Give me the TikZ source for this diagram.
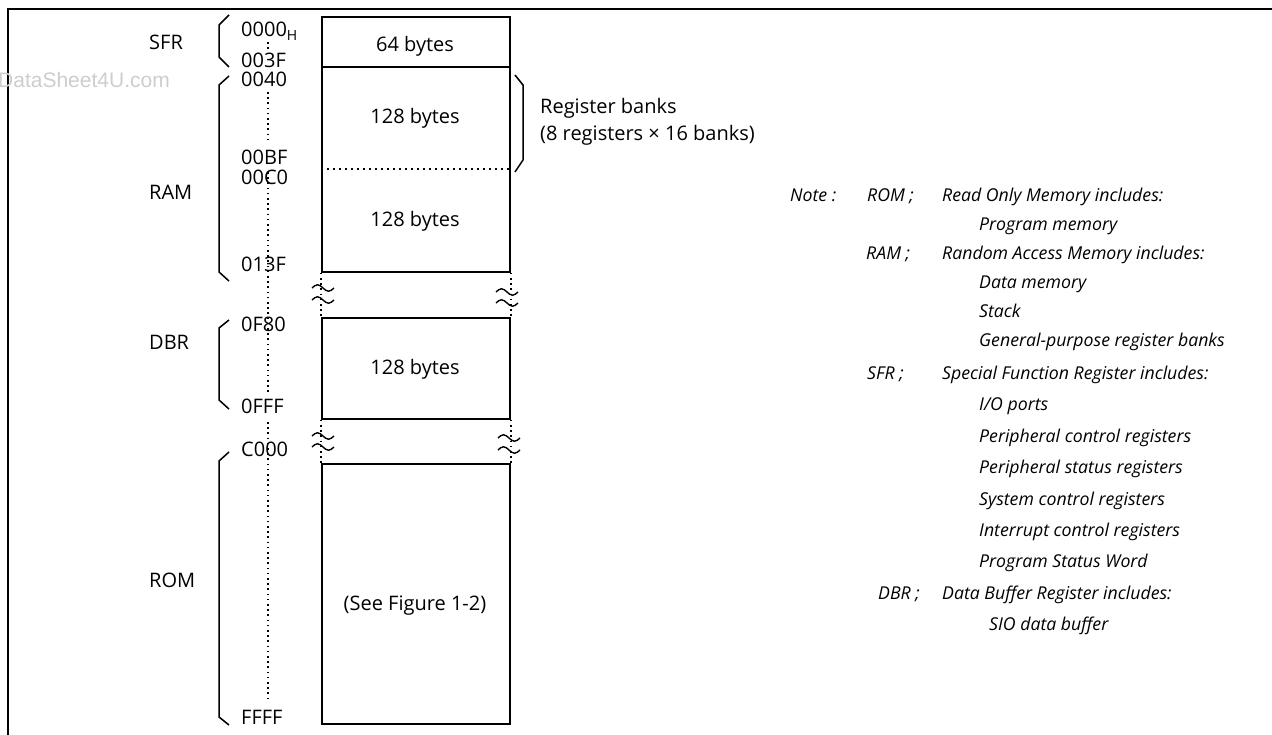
\documentclass[tikz,border=0pt]{standalone}
\usepackage{fontspec}
\setmainfont{Open Sans}
\newfontfamily\wmfont{Liberation Sans}
\definecolor{wmgray}{RGB}{205,205,205}
\begin{document}
\begin{tikzpicture}[x=1pt,y=-1pt,
  memblock/.style={draw, line width=1.8pt, minimum width=188pt, anchor=north west, inner sep=0pt},
  lbl/.style={font=\fontsize{20}{24}\selectfont, anchor=base west, inner sep=0pt},
  ctr/.style={font=\fontsize{20}{24}\selectfont, anchor=base, inner sep=0pt},
  note/.style={font=\fontsize{17.7}{20}\selectfont\itshape, anchor=base west, inner sep=0pt},
  brace/.style={line width=1.5pt},
  addrdots/.style={line width=1.6pt, dash pattern=on 1.6pt off 3.6pt},
  sepdots/.style={line width=1.5pt, dash pattern=on 1.5pt off 4.5pt},
  frame/.style={line width=2.2pt},
  brk/.pic={\draw[line width=1.4pt] (-11,0) sin (-5.5,-3.2) cos (0,0) sin (5.5,3.2) cos (11,0);}
]
\useasboundingbox (0,0) rectangle (1272,735);

% frame
\draw[frame] (8,735) -- (8,9) -- (1272,9);

% watermark
\node[font=\wmfont\fontsize{21}{24}\selectfont, text=wmgray, anchor=base east, inner sep=0pt] (wm) at (170,88) {DataSheet4U.com};

% memory blocks
\node[memblock, minimum height=50pt] (sfrbox) at (321,16) {};
\node[memblock, minimum height=205pt] (rambox) at (321,66) {};
\node[memblock, minimum height=101pt] (dbrbox) at (321,317) {};
\node[memblock, minimum height=260pt] (rombox) at (321,463) {};

\coordinate (sepL) at (321,169);
\coordinate (sepR) at (509,169);
\draw[sepdots] (sepL) -- (sepR);

\node[ctr] (t64) at (415,52) {64 bytes};
\node[ctr] (t128a) at (415,124) {128 bytes};
\node[ctr] (t128b) at (415,227) {128 bytes};
\node[ctr] (t128c) at (415,374) {128 bytes};
\node[ctr] (tsee) at (415,610) {(See Figure 1-2)};

% breaks
\draw[addrdots] (rambox.south west) -- (dbrbox.north west);
\draw[addrdots] (rambox.south east) -- (dbrbox.north east);
\draw[addrdots] (dbrbox.south west) -- (rombox.north west);
\draw[addrdots] (dbrbox.south east) -- (rombox.north east);
\pic at (323,288) {brk};
\pic at (323,300) {brk};
\pic at (507,292) {brk};
\pic at (507,303) {brk};
\pic at (323,436) {brk};
\pic at (323,447) {brk};
\pic at (509,438) {brk};
\pic at (509,450) {brk};

% area labels
\node[lbl] (lsfr) at (149,50) {SFR};
\node[lbl] (lram) at (149,200) {RAM};
\node[lbl] (ldbr) at (149,349) {DBR};
\node[lbl] (lrom) at (149,587) {ROM};

% addresses
\node[lbl] (a0000) at (241,37) {0000\textsubscript{H}};
\node[lbl] (a003F) at (241,68) {003F};
\node[lbl] (a0040) at (241,87) {0040};
\node[lbl] (a00BF) at (241,165) {00BF};
\node[lbl] (a00C0) at (241,185) {00C0};
\node[lbl] (a013F) at (241,272) {013F};
\node[lbl] (a0F80) at (241,332) {0F80};
\node[lbl] (a0FFF) at (241,413) {0FFF};
\node[lbl] (aC000) at (241,456) {C000};
\node[lbl] (aFFFF) at (241,724) {FFFF};

% address dotted line
\draw[addrdots] (268,42) -- (268,52);
\draw[addrdots] (268,92) -- (268,143);
\draw[addrdots] (268,172) -- (268,393);
\draw[addrdots] (268,422) -- (268,700);

% braces
\draw[brace] (229,15) -- (219,25) -- (219,57) -- (229,67);
\draw[brace] (229,76) -- (219,85) -- (219,272) -- (229,281);
\draw[brace] (229,320) -- (219,328) -- (219,400) -- (229,409);
\draw[brace] (229,452) -- (219,461) -- (219,717) -- (229,725);
\draw[brace] (515,75) -- (523,85) -- (523,160) -- (515,172);

\node[lbl] (rb1) at (540,114) {Register banks};
\node[lbl] (rb2) at (540,141) {(8 registers × 16 banks)};

% notes
\node[note] (n0) at (790,202) {Note :};
\node[note] (n0a) at (867,202) {ROM ;};
\node[note] (n0b) at (942,202) {Read Only Memory includes:};
\node[note] (n1) at (979,231) {Program memory};
\node[note] (n2a) at (866,260) {RAM ;};
\node[note] (n2b) at (942,260) {Random Access Memory includes:};
\node[note] (n3) at (979,289) {Data memory};
\node[note] (n4) at (979,318) {Stack};
\node[note] (n5) at (979,347) {General-purpose register banks};
\node[note] (n6a) at (867,379) {SFR ;};
\node[note] (n6b) at (942,379) {Special Function Register includes:};
\node[note] (n7) at (979,410) {I/O ports};
\node[note] (n8) at (979,442) {Peripheral control registers};
\node[note] (n9) at (979,473) {Peripheral status registers};
\node[note] (n10) at (979,505) {System control registers};
\node[note] (n11) at (979,536) {Interrupt control registers};
\node[note] (n12) at (979,567) {Program Status Word};
\node[note] (n13a) at (878,599) {DBR ;};
\node[note] (n13b) at (942,599) {Data Buffer Register includes:};
\node[note] (n14) at (989,630) {SIO data buffer};
\end{tikzpicture}
\end{document}
